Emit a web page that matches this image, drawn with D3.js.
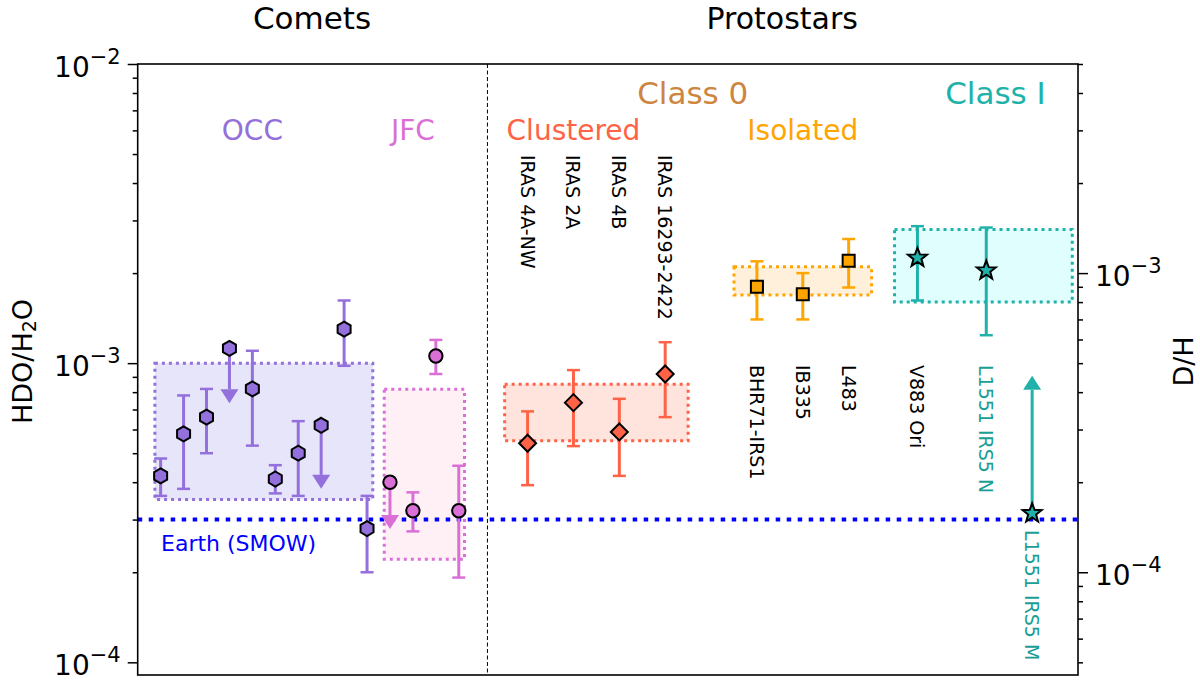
<!DOCTYPE html>
<html>
<head>
<meta charset="utf-8">
<script src="https://cdn.jsdelivr.net/npm/d3@7"></script>
<style>
  body { margin: 0; background: #fff; }
  text { font-family: "DejaVu Sans", sans-serif; }
</style>
</head>
<body>
<div id="viz"></div>
<script>
// ---- data (HDO/H2O), x is a slot index along the plot ----
const occX   = [1, 2, 3, 4, 5, 6, 7, 8, 9, 10];
const occVal = [4.2e-4, 5.8e-4, 6.6e-4, 1.12e-3, 8.2e-4, 4.1e-4, 5.0e-4, 6.2e-4, 1.30e-3, 2.8e-4];
const occLo  = [3.6e-4, 3.8e-4, 5.0e-4, null, 5.3e-4, 3.67e-4, 3.6e-4, null, 9.8e-4, 2.0e-4];
const occHi  = [4.8e-4, 7.8e-4, 8.2e-4, null, 1.10e-3, 4.56e-4, 6.4e-4, null, 1.62e-3, 3.6e-4];
const occLim = [null, null, null, 7.35e-4, null, null, null, 3.8e-4, null, null];   // upper limits

const jfcX   = [11, 12, 13, 14];
const jfcVal = [4.0e-4, 3.21e-4, 1.057e-3, 3.21e-4];
const jfcLo  = [null, 2.74e-4, 9.2e-4, 1.92e-4];
const jfcHi  = [null, 3.7e-4, 1.196e-3, 4.54e-4];
const jfcLim = [2.79e-4, null, null, null];

const clusNames = ["IRAS 4A-NW", "IRAS 2A", "IRAS 4B", "IRAS 16293-2422"];
const clusX   = [17, 19, 21, 23];
const clusVal = [5.4e-4, 7.38e-4, 5.89e-4, 9.2e-4];
const clusLo  = [3.91e-4, 5.28e-4, 4.2e-4, 6.6e-4];
const clusHi  = [6.9e-4, 9.48e-4, 7.6e-4, 1.175e-3];

const isoNames = ["BHR71-IRS1", "IB335", "L483"];
const isoX   = [27, 29, 31];
const isoVal = [1.80e-3, 1.70e-3, 2.2e-3];
const isoLo  = [1.40e-3, 1.40e-3, 1.79e-3];
const isoHi  = [2.19e-3, 2.0e-3, 2.6e-3];

const c1Names = ["V883 Ori", "L1551 IRS5 N"];
const c1X   = [34, 37];
const c1Val = [2.25e-3, 2.04e-3];
const c1Lo  = [1.62e-3, 1.24e-3];
const c1Hi  = [2.87e-3, 2.84e-3];

const irs5mX = 39, irs5mVal = 3.15e-4, irs5mLim = 9.07e-4;  // lower limit

const earthVal = 3.0e-4;

// range boxes: [x0, x1, ylo, yhi]
const boxOCC  = [0.75, 10.25, 3.5e-4, 1.0e-3];
const boxJFC  = [10.75, 14.25, 2.21e-4, 8.18e-4];
const boxClus = [16, 24, 5.5e-4, 8.5e-4];
const boxIso  = [26, 32, 1.69e-3, 2.1e-3];
const boxC1   = [33, 40.75, 1.6e-3, 2.8e-3];

const yMajor = [1e-4, 1e-3, 1e-2];
const yRMajor = [1e-4, 1e-3];

// ---- layout ----
const W = 1200, H = 700;
const pLeft = 137.7, pRight = 1078, pTop = 64, pBottom = 675;

const svg = d3.select("#viz").append("svg")
  .attr("width", W).attr("height", H);

const x = d3.scaleLinear().domain([0, 41]).range([pLeft, pRight]);
const y = d3.scaleLog().domain([9.07e-5, 1e-2]).range([pBottom, pTop]);
const yR = d3.scaleLog().domain([9.07e-5 / 2, 5e-3]).range([pBottom, pTop]);

// boxes
function drawBox(b, fill, stroke) {
  svg.append("rect")
    .attr("x", x(b[0])).attr("y", y(b[3]))
    .attr("width", x(b[1]) - x(b[0])).attr("height", y(b[2]) - y(b[3]))
    .attr("fill", fill)
    .attr("stroke", stroke).attr("stroke-width", 3)
    .attr("stroke-dasharray", "3,4");
}
drawBox(boxOCC, "#e6e5f9", "mediumpurple");
drawBox(boxJFC, "#fff0f6", "orchid");
drawBox(boxClus, "#ffe3dd", "tomato");
drawBox(boxIso, "#fef0db", "orange");
drawBox(boxC1, "#e0fefe", "lightseagreen");

// Earth line
svg.append("line")
  .attr("x1", pLeft).attr("x2", pRight)
  .attr("y1", y(earthVal)).attr("y2", y(earthVal))
  .attr("stroke", "blue").attr("stroke-width", 4)
  .attr("stroke-dasharray", "4.5,6.5");
svg.append("text")
  .attr("x", 161).attr("y", 551)
  .attr("fill", "blue").attr("font-size", 22)
  .text("Earth (SMOW)");

// comets / protostars divider
svg.append("line")
  .attr("x1", x(15.25)).attr("x2", x(15.25))
  .attr("y1", pTop).attr("y2", pBottom)
  .attr("stroke", "black").attr("stroke-width", 1)
  .attr("stroke-dasharray", "4,2.5");

// error bars
function drawErr(xs, lo, hi, color) {
  xs.forEach((d, i) => {
    if (lo[i] == null) return;
    const g = svg.append("g").attr("stroke", color);
    g.append("line").attr("x1", x(d)).attr("x2", x(d))
      .attr("y1", y(lo[i])).attr("y2", y(hi[i])).attr("stroke-width", 3);
    [lo[i], hi[i]].forEach(v => {
      g.append("line").attr("x1", x(d) - 6.5).attr("x2", x(d) + 6.5)
        .attr("y1", y(v)).attr("y2", y(v)).attr("stroke-width", 2.5);
    });
  });
}

// limit arrows
function drawArrow(xv, from, to, color) {
  const x0 = x(xv), y0 = y(from), y1 = y(to);
  const dir = y1 > y0 ? 1 : -1, head = 14;
  svg.append("line").attr("x1", x0).attr("x2", x0)
    .attr("y1", y0).attr("y2", y1 - dir * head)
    .attr("stroke", color).attr("stroke-width", 3);
  svg.append("path")
    .attr("d", `M${x0 - 9},${y1 - dir * head} L${x0 + 9},${y1 - dir * head} L${x0},${y1} Z`)
    .attr("fill", color);
}

drawErr(occX, occLo, occHi, "mediumpurple");
drawErr(jfcX, jfcLo, jfcHi, "orchid");
drawErr(clusX, clusLo, clusHi, "tomato");
drawErr(isoX, isoLo, isoHi, "orange");
drawErr(c1X, c1Lo, c1Hi, "lightseagreen");
occX.forEach((d, i) => { if (occLim[i] != null) drawArrow(d, occVal[i], occLim[i], "mediumpurple"); });
jfcX.forEach((d, i) => { if (jfcLim[i] != null) drawArrow(d, jfcVal[i], jfcLim[i], "orchid"); });
drawArrow(irs5mX, irs5mVal, irs5mLim, "lightseagreen");

// markers
function polyPath(n, r, rot) {
  const pts = d3.range(n).map(k => {
    const a = rot + k * 2 * Math.PI / n;
    return [r * Math.sin(a), -r * Math.cos(a)];
  });
  return "M" + pts.map(p => p.join(",")).join("L") + "Z";
}
function starPath(R, r) {
  const pts = d3.range(10).map(k => {
    const a = k * Math.PI / 5, rr = k % 2 ? r : R;
    return [rr * Math.sin(a), -rr * Math.cos(a)];
  });
  return "M" + pts.map(p => p.join(",")).join("L") + "Z";
}
function drawMarkers(xs, vals, shape, color) {
  svg.append("g").selectAll("path").data(xs).join("path")
    .attr("transform", (d, i) => `translate(${x(d)},${y(vals[i])})`)
    .attr("d", shape)
    .attr("fill", color).attr("stroke", "black").attr("stroke-width", 2)
    .attr("stroke-linejoin", "miter");
}
drawMarkers(occX, occVal, polyPath(6, 7.5, 0), "mediumpurple");
drawMarkers(jfcX, jfcVal, d3.symbol(d3.symbolCircle, 140)(), "orchid");
drawMarkers(clusX, clusVal, polyPath(4, 8.5, 0), "tomato");
drawMarkers(isoX, isoVal, polyPath(4, 8.5, Math.PI / 4), "orange");
drawMarkers(c1X, c1Val, starPath(10, 4.2), "lightseagreen");
drawMarkers([irs5mX], [irs5mVal], starPath(10, 4.2), "lightseagreen");

// rotated source names
function vlabel(xv, yStart, txt, color) {
  svg.append("text")
    .attr("transform", `translate(${x(xv)},${yStart}) rotate(90)`)
    .attr("dominant-baseline", "central")
    .attr("font-size", 19).attr("fill", color)
    .text(txt);
}
clusX.forEach((d, i) => vlabel(d, 155, clusNames[i], "black"));
isoX.forEach((d, i) => vlabel(d, 365, isoNames[i], "black"));
vlabel(c1X[0], 365, c1Names[0], "black");
vlabel(c1X[1], 365, c1Names[1], "#1a9e96");
vlabel(irs5mX, 530, "L1551 IRS5 M", "#1a9e96");

// group labels
function glabel(xv, yv, txt, color, size) {
  svg.append("text").attr("x", x(xv)).attr("y", yv)
    .attr("text-anchor", "middle").attr("dominant-baseline", "central")
    .attr("font-size", size).attr("fill", color).text(txt);
}
glabel(7.6, 18, "Comets", "black", 31);
glabel(28.1, 18, "Protostars", "black", 30);
glabel(24.2, 93, "Class 0", "peru", 31);
glabel(37.4, 93, "Class I", "lightseagreen", 31);
glabel(5, 130, "OCC", "mediumpurple", 28);
glabel(12, 130, "JFC", "orchid", 28);
glabel(19, 130, "Clustered", "tomato", 28);
glabel(29, 130, "Isolated", "orange", 28);

// axes
function minors(lo, hi) {
  const out = [];
  for (let e = -5; e <= -2; e++) for (let m = 2; m <= 9; m++) {
    const v = m * Math.pow(10, e);
    if (v >= lo && v <= hi) out.push(v);
  }
  return out;
}
function expLabel(sel) {
  sel.each(function(d) {
    const t = d3.select(this).text("");
    t.append("tspan").text("10");
    t.append("tspan").attr("dy", -13).attr("font-size", 21)
      .text("\u2212" + Math.round(-Math.log10(d)));
  });
}
const gL = svg.append("g").attr("transform", `translate(${pLeft},0)`);
gL.call(d3.axisLeft(y).tickValues(minors(9.07e-5, 1e-2)).tickSize(5).tickFormat(""));
const gLM = gL.append("g").call(d3.axisLeft(y).tickValues(yMajor).tickSize(10).tickPadding(7));
gLM.selectAll("text").attr("font-size", 28).attr("font-family", "DejaVu Sans").attr("dy", "0.45em").call(expLabel);

const gR = svg.append("g").attr("transform", `translate(${pRight},0)`);
gR.call(d3.axisRight(yR).tickValues(minors(9.07e-5 / 2, 5e-3)).tickSize(5).tickFormat(""));
const gRM = gR.append("g").call(d3.axisRight(yR).tickValues(yRMajor).tickSize(10).tickPadding(7));
gRM.selectAll("text").attr("font-size", 28).attr("font-family", "DejaVu Sans").attr("dy", "0.45em").call(expLabel);

svg.selectAll(".domain").remove();
svg.selectAll(".tick line").attr("stroke-width", 1.5);

svg.append("rect")
  .attr("x", pLeft).attr("y", pTop)
  .attr("width", pRight - pLeft).attr("height", pBottom - pTop)
  .attr("fill", "none").attr("stroke", "black").attr("stroke-width", 1.6);

// axis titles
const yl = svg.append("text")
  .attr("transform", `translate(22,${(pTop + pBottom) / 2 - 8}) rotate(-90)`)
  .attr("text-anchor", "middle").attr("dominant-baseline", "central")
  .attr("font-size", 27);
yl.append("tspan").text("HDO/H");
yl.append("tspan").attr("font-size", 19).attr("dy", 7).text("2");
yl.append("tspan").attr("dy", -7).text("O");

svg.append("text")
  .attr("transform", `translate(1183,${(pTop + pBottom) / 2 - 8}) rotate(-90)`)
  .attr("text-anchor", "middle").attr("dominant-baseline", "central")
  .attr("font-size", 27).text("D/H");
</script>
</body>
</html>
